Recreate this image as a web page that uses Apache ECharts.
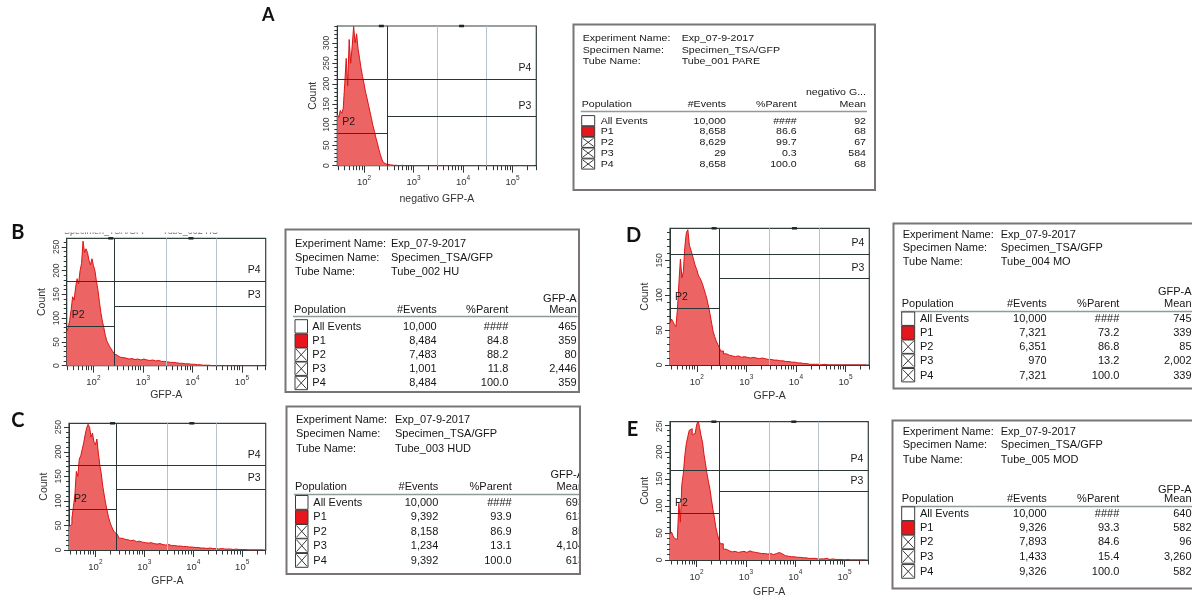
<!DOCTYPE html>
<html>
<head>
<meta charset="utf-8">
<script src="https://cdn.jsdelivr.net/npm/echarts@6/dist/echarts.min.js"></script>
<style>
  html, body { margin: 0; padding: 0; background: #fff; }
  #chart { width: 1192px; height: 597px; }
</style>
</head>
<body>
<div id="chart"></div>
<script>
// ---- histogram data: bin left edges in log10(GFP-A), counts per bin ----
const binLog = [
  1.46, 1.49, 1.52, 1.55, 1.58, 1.61, 1.64, 1.67, 1.70, 1.73,
  1.76, 1.79, 1.82, 1.85, 1.88, 1.91, 1.94, 1.97, 2.00, 2.03,
  2.06, 2.09, 2.12, 2.15, 2.18, 2.21, 2.24, 2.27, 2.30, 2.33,
  2.36, 2.39, 2.42, 2.45,
  2.48, 2.54, 2.60, 2.66, 2.72, 2.78, 2.84, 2.90, 2.96, 3.02,
  3.08, 3.14, 3.20, 3.26, 3.32, 3.38, 3.44, 3.50, 3.56, 3.62,
  3.68, 3.74, 3.80, 3.86, 3.92, 3.98, 4.04, 4.10, 4.16, 4.22,
  4.28, 4.34, 4.40, 4.46, 4.52, 4.58, 4.64, 4.70, 4.76, 4.82,
  4.88, 4.94, 5.00, 5.06, 5.12, 5.18, 5.24, 5.30, 5.36, 5.42
];
const countsA = [
  125, 118, 135, 128, 140, 200, 262, 195, 308, 250,
  290, 340, 300, 322, 285, 262, 238, 218, 200, 180,
  165, 148, 132, 115, 98, 84, 68, 55, 40, 27,
  16, 8, 4, 2,
  2, 1, 1, 0, 1, 0, 0, 0, 0, 0,
  0, 0, 0, 0, 0, 0, 0, 0, 0, 0,
  0, 0, 0, 0, 0, 0, 0, 0, 0, 0,
  0, 0, 0, 0, 0, 0, 0, 0, 0, 0,
  0, 0, 0, 0, 0, 0, 0, 0, 0, 0
];
const countsB = [
  72, 80, 95, 118, 145, 138, 165, 183, 172, 200,
  215, 262, 238, 246, 238, 222, 212, 225, 211, 200,
  178, 160, 135, 112, 94, 80, 64, 52, 46, 40,
  35, 30, 25, 22,
  18, 17, 16, 14, 15, 13, 14, 12, 14, 12,
  11, 12, 10, 11, 9, 9, 8, 7, 7, 6,
  5, 5, 4, 4, 3, 3, 2, 2, 1, 1,
  1, 0, 0, 0, 0, 0, 0, 0, 0, 0,
  0, 0, 0, 0, 0, 0, 0, 0, 0, 0
];
const countsC = [
  48, 52, 65, 88, 112, 160, 150, 185, 192, 205,
  218, 235, 248, 256, 250, 230, 238, 220, 214, 226,
  197, 173, 155, 130, 112, 94, 80, 66, 56, 48,
  41, 36, 32, 29,
  24, 22, 21, 19, 20, 17, 18, 16, 15, 14,
  15, 13, 12, 13, 11, 10, 11, 9, 9, 8,
  8, 7, 7, 6, 6, 5, 5, 4, 4, 3,
  4, 3, 3, 2, 3, 2, 2, 2, 1, 2,
  1, 1, 1, 0, 0, 0, 0, 0, 0, 0
];
const countsD = [
  60, 66, 62, 58, 55, 80, 118, 152, 125, 134,
  170, 190, 194, 172, 165, 158, 150, 142, 137, 129,
  125, 121, 115, 108, 101, 93, 83, 72, 60, 48,
  41, 35, 30, 26,
  20, 16, 14, 13, 12, 13, 11, 12, 11, 10,
  11, 10, 9, 10, 9, 8, 8, 7, 7, 6,
  6, 5, 5, 4, 4, 3, 3, 2, 2, 1,
  1, 1, 1, 0, 1, 0, 0, 0, 0, 0,
  0, 0, 0, 0, 0, 0, 0, 0, 0, 0
];
const countsE = [
  48, 52, 45, 40, 38, 42, 105, 70, 140, 160,
  193, 215, 228, 240, 243, 232, 234, 237, 250, 258,
  245, 230, 218, 195, 178, 160, 145, 131, 112, 94,
  78, 60, 48, 38,
  30, 20, 17, 15, 16, 14, 15, 16, 14, 17,
  15, 14, 13, 12, 12, 11, 12, 10, 12, 14,
  11, 8, 7, 6, 6, 5, 5, 4, 4, 3,
  3, 3, 2, 2, 2, 3, 1, 2, 1, 1,
  1, 0, 1, 0, 0, 0, 0, 0, 0, 0
];

// ---- per-panel axis extents and gates ----
const panelLetters = ['A', 'B', 'C', 'D', 'E'];
const xAxisNames = ['negativo GFP-A', 'GFP-A', 'GFP-A', 'GFP-A', 'GFP-A'];
const countMax = [341, 268, 258, 196, 256];
const gateSplit = [2.47, 2.43, 2.43, 2.45, 2.46];
const gateP2 = [80, 84, 82, 82, 86];
const gateP3 = [120, 126, 124, 124, 127];
const gateP4 = [212, 178, 172, 159, 167];
const decadeTicks = [2, 3, 4, 5];
const gateHandles = [2.35, 3.97];

// ---- statistics tables ----
const experimentName = 'Exp_07-9-2017';
const specimenName = 'Specimen_TSA/GFP';
const tubeNames = ['Tube_001 PARE', 'Tube_002 HU', 'Tube_003 HUD', 'Tube_004 MO', 'Tube_005 MOD'];
const meanHeaders = ['negativo G...', 'GFP-A', 'GFP-A', 'GFP-A', 'GFP-A'];
const populations = ['All Events', 'P1', 'P2', 'P3', 'P4'];
const eventsA = [10000, 8658, 8629, 29, 8658];
const eventsB = [10000, 8484, 7483, 1001, 8484];
const eventsC = [10000, 9392, 8158, 1234, 9392];
const eventsD = [10000, 7321, 6351, 970, 7321];
const eventsE = [10000, 9326, 7893, 1433, 9326];
const parentA = ['####', 86.6, 99.7, 0.3, 100.0];
const parentB = ['####', 84.8, 88.2, 11.8, 100.0];
const parentC = ['####', 93.9, 86.9, 13.1, 100.0];
const parentD = ['####', 73.2, 86.8, 13.2, 100.0];
const parentE = ['####', 93.3, 84.6, 15.4, 100.0];
const meanA = [92, 68, 67, 584, 68];
const meanB = [465, 359, 80, 2446, 359];
const meanC = [693, 613, 85, 4104, 613];
const meanD = [745, 339, 85, 2002, 339];
const meanE = [640, 582, 96, 3260, 582];

const histCounts = [countsA, countsB, countsC, countsD, countsE];
const tableEvents = [eventsA, eventsB, eventsC, eventsD, eventsE];
const tableParent = [parentA, parentB, parentC, parentD, parentE];
const tableMean = [meanA, meanB, meanC, meanD, meanE];

// ---- layout ----
const FONT = '"Liberation Sans", Arial, sans-serif';
const xMin = 1.46, xMax = 5.48;
const plotBoxes = [
  { left: 337.3, top: 26,    width: 199,   height: 139.7, nameGap: 27.5 },
  { left: 66.7,  top: 238.3, width: 199,   height: 127.4, nameGap: 24 },
  { left: 69,    top: 423.3, width: 196.7, height: 126.7, nameGap: 26 },
  { left: 670,   top: 228.3, width: 199.3, height: 136.7, nameGap: 25.5 },
  { left: 670,   top: 421.7, width: 198.3, height: 138.3, nameGap: 26.5 }
];
const letterPos = [[268.3, 15], [17.8, 233], [17.8, 421], [633.7, 235.3], [632.5, 429.2]];
const letterSize = [18, 20, 20, 20, 20];
const tableLayouts = [
  { x: 573.5, y: 24.5, w: 301.5, h: 165.5, fs: 10.6, sy: 0.86, tx: 582.7, vx: 681.7, hy: [38.3, 50, 61.7], mhy: 92.3, chy: 104.3, hly: 111.5,
    ry: [121, 131.7, 142.6, 153.4, 164.3], rh: 10.8, cbx: 581.7, cbw: 13, lx: 600.7, cEv: 726, cPa: 796.7, cMe: 866 },
  { x: 285.5, y: 229.5, w: 293.5, h: 162.5, fs: 11, tx: 295, vx: 391, hy: [244, 258.3, 271.7], mhy: 299.3, chy: 310, hly: 316.5,
    ry: [326.7, 341, 355, 369, 383.3], rh: 14, cbx: 295, cbw: 12.5, lx: 312.3, cEv: 436.7, cPa: 508.3, cMe: 576.7 },
  { x: 286.5, y: 406.5, w: 293.5, h: 167.5, fs: 11, tx: 296, vx: 395, hy: [420, 434.3, 449], mhy: 475, chy: 487.3, hly: 494.5,
    ry: [502.7, 517.3, 531.7, 546, 560.7], rh: 14.4, cbx: 295.5, cbw: 12.5, lx: 313.3, cEv: 438.3, cPa: 511.7, cMe: 584, clipX: 579.5 },
  { x: 893.5, y: 223.5, w: 330, h: 165, fs: 11, tx: 902.7, vx: 1000.7, hy: [235, 248.3, 262.3], mhy: 291.7, chy: 304.3, hly: 311.5,
    ry: [319, 333, 347, 361, 375.5], rh: 14, cbx: 901.7, cbw: 13, lx: 920, cEv: 1046.7, cPa: 1119.3, cMe: 1191.5 },
  { x: 892.5, y: 420.5, w: 330, h: 168, fs: 11, tx: 902.7, vx: 1000.7, hy: [431.7, 445, 460], mhy: 490, chy: 499.3, hly: 506.5,
    ry: [514, 528.3, 542.3, 556.7, 571.7], rh: 14.3, cbx: 901.7, cbw: 13, lx: 920, cEv: 1046.7, cPa: 1119.3, cMe: 1191.5 }
];

// minor ticks at 2..9 x 10^n on the log scale
const minorTickValues = [];
for (let e = 1; e <= 5; e++) {
  for (let m = 2; m <= 9; m++) {
    const v = Math.log10(m * Math.pow(10, e));
    if (v > xMin && v < xMax) minorTickValues.push(v);
  }
}

const AXIS_COLOR = '#2e3838';
const grids = [], xAxes = [], yAxes = [], series = [];

plotBoxes.forEach((b, i) => {
  grids.push({
    left: b.left, top: b.top, width: b.width, height: b.height,
    show: true, borderColor: '#34403f', borderWidth: 1.2, backgroundColor: '#fff',
    outerBoundsMode: 'none'
  });

  xAxes.push({
    gridIndex: i, type: 'value', min: xMin, max: xMax, position: 'bottom',
    name: xAxisNames[i], nameLocation: 'middle', nameGap: b.nameGap,
    nameTextStyle: { fontFamily: FONT, fontSize: 10.5, color: '#333' },
    axisLine: { show: true, onZero: false, lineStyle: { color: AXIS_COLOR, width: 1 } },
    axisTick: { show: true, customValues: decadeTicks, length: 7, lineStyle: { color: AXIS_COLOR } },
    axisLabel: {
      customValues: decadeTicks, margin: 9,
      formatter: v => '{b|10}{s|' + Math.round(v) + '}',
      rich: {
        b: { fontFamily: FONT, fontSize: 9.5, color: '#333', verticalAlign: 'bottom', lineHeight: 13 },
        s: { fontFamily: FONT, fontSize: 6.5, color: '#333', verticalAlign: 'top', lineHeight: 13 }
      }
    },
    splitLine: { show: false }
  });
  xAxes.push({
    gridIndex: i, type: 'value', min: xMin, max: xMax, position: 'bottom',
    axisLine: { show: false, onZero: false },
    axisTick: { show: true, customValues: minorTickValues, length: 4.5, lineStyle: { color: AXIS_COLOR } },
    axisLabel: { show: false },
    splitLine: { show: false }
  });

  const yMajor = [], yMinor = [];
  for (let v = 0; v <= countMax[i]; v += 50) yMajor.push(v);
  for (let v = 10; v <= countMax[i]; v += 10) if (v % 50) yMinor.push(v);

  yAxes.push({
    gridIndex: i, type: 'value', min: 0, max: countMax[i], position: 'left',
    name: 'Count', nameLocation: 'middle', nameGap: 19,
    nameTextStyle: { fontFamily: FONT, fontSize: 10.5, color: '#333' },
    axisLine: { show: true, onZero: false, lineStyle: { color: AXIS_COLOR, width: 1 } },
    axisTick: { show: true, customValues: yMajor, length: 5, lineStyle: { color: AXIS_COLOR } },
    axisLabel: { customValues: yMajor, rotate: 90, margin: 6, fontFamily: FONT, fontSize: 8.5, color: '#3a3a3a' },
    splitLine: { show: false }
  });
  yAxes.push({
    gridIndex: i, type: 'value', min: 0, max: countMax[i], position: 'left',
    axisLine: { show: false, onZero: false },
    axisTick: { show: true, customValues: yMinor, length: 3, lineStyle: { color: AXIS_COLOR } },
    axisLabel: { show: false },
    splitLine: { show: false }
  });

  const q2 = xMin + (xMax - xMin) / 2;
  const q3 = xMin + 3 * (xMax - xMin) / 4;
  const gateLabel = (text, position) => ({
    show: true, formatter: text, position, distance: 5,
    fontFamily: FONT, fontSize: 10.5, color: '#1c1c1c'
  });
  const quarter = { color: '#b7c2cd', width: 1, type: 'solid' };

  series.push({
    type: 'line', xAxisIndex: 2 * i, yAxisIndex: 2 * i,
    step: 'end', symbol: 'none', clip: true, animation: false,
    data: binLog.map((x, j) => [x, histCounts[i][j]]),
    lineStyle: { color: '#dc1414', width: 1 },
    areaStyle: { color: '#ec6464', opacity: 1 },
    markLine: {
      silent: true, animation: false, symbol: ['none', 'none'], precision: 4,
      lineStyle: { color: '#2b3535', width: 1, type: 'solid' },
      label: { show: false },
      data: [
        [{ coord: [q2, 0], lineStyle: quarter }, { coord: [q2, countMax[i]] }],
        [{ coord: [q3, 0], lineStyle: quarter }, { coord: [q3, countMax[i]] }],
        [{ coord: [xMin, gateP4[i]], label: gateLabel('P4', 'insideEndTop') }, { coord: [xMax, gateP4[i]] }],
        [{ coord: [gateSplit[i], gateP3[i]], label: gateLabel('P3', 'insideEndTop') }, { coord: [xMax, gateP3[i]] }],
        [{ coord: [xMin, gateP2[i]], label: gateLabel('P2', 'insideStartTop') }, { coord: [gateSplit[i], gateP2[i]] }],
        [{ coord: [gateSplit[i], 0] }, { coord: [gateSplit[i], countMax[i]] }]
      ]
    },
    markPoint: {
      silent: true, animation: false, symbol: 'rect', symbolSize: [5, 2.5],
      itemStyle: { color: '#1e2626' }, label: { show: false },
      data: gateHandles.map(x => ({ coord: [x, countMax[i]] }))
    }
  });
});

// ---- statistics tables drawn as graphic elements ----
const fmtInt = v => v.toLocaleString('en-US');
const fmtPct = v => typeof v === 'number' ? v.toFixed(1) : v;

function buildTable(i) {
  const L = tableLayouts[i];
  const els = [];
  const font = L.fs + 'px ' + FONT;
  const txt = (text, x, y, align) => els.push({
    type: 'text', z: 12, x, y, scaleY: L.sy || 1,
    style: { text, font, fill: '#161616', textAlign: align || 'left', textVerticalAlign: 'middle' }
  });

  els.push({ type: 'rect', z: 10, shape: { x: L.x, y: L.y, width: L.w, height: L.h }, style: { fill: '#fff' } });

  txt('Experiment Name:', L.tx, L.hy[0]);
  txt(experimentName, L.vx, L.hy[0]);
  txt('Specimen Name:', L.tx, L.hy[1]);
  txt(specimenName, L.vx, L.hy[1]);
  txt('Tube Name:', L.tx, L.hy[2]);
  txt(tubeNames[i], L.vx, L.hy[2]);

  txt(meanHeaders[i], L.cMe, L.mhy, 'right');
  txt('Population', L.tx - 1, L.chy);
  txt('#Events', L.cEv, L.chy, 'right');
  txt('%Parent', L.cPa, L.chy, 'right');
  txt('Mean', L.cMe, L.chy, 'right');

  const lineEnd = Math.min(L.cMe + 1, L.clipX || 1e9);
  els.push({ type: 'line', z: 12, shape: { x1: L.tx - 2, y1: L.hly, x2: lineEnd, y2: L.hly },
    style: { stroke: '#8f9b9b', lineWidth: 1.6 } });

  populations.forEach((p, r) => {
    const y = L.ry[r];
    const bx = L.cbx, by = y - L.rh / 2, bw = L.cbw, bh = L.rh - 0.6;
    els.push({ type: 'rect', z: 12, shape: { x: bx, y: by, width: bw, height: bh },
      style: { fill: r === 1 ? '#e6161c' : '#fff', stroke: '#3c3c3c', lineWidth: 1 } });
    if (r >= 2) {
      els.push({ type: 'line', z: 12, shape: { x1: bx + 1, y1: by + 1, x2: bx + bw - 1, y2: by + bh - 1 }, style: { stroke: '#3c3c3c', lineWidth: 1 } });
      els.push({ type: 'line', z: 12, shape: { x1: bx + 1, y1: by + bh - 1, x2: bx + bw - 1, y2: by + 1 }, style: { stroke: '#3c3c3c', lineWidth: 1 } });
    }
    txt(p, L.lx, y);
    txt(fmtInt(tableEvents[i][r]), L.cEv, y, 'right');
    txt(fmtPct(tableParent[i][r]), L.cPa, y, 'right');
    txt(fmtInt(tableMean[i][r]), L.cMe, y, 'right');
  });

  if (L.clipX) {
    els.push({ type: 'rect', z: 13, shape: { x: L.clipX, y: L.y - 2, width: 26, height: L.h + 4 }, style: { fill: '#fff' } });
  }
  els.push({ type: 'rect', z: 14, shape: { x: L.x, y: L.y, width: L.w, height: L.h },
    style: { fill: null, stroke: '#7a7474', lineWidth: 2 } });
  return els;
}

const graphics = [];
panelLetters.forEach((t, i) => {
  graphics.push({
    type: 'text', z: 20, x: letterPos[i][0], y: letterPos[i][1],
    style: { text: t, font: 'bold ' + letterSize[i] + 'px Lato, "Liberation Sans", sans-serif', fill: '#111',
      textAlign: 'center', textVerticalAlign: 'middle' }
  });
});
for (let i = 0; i < 5; i++) graphics.push(...buildTable(i));

// header strip of the HU plot, cut at the top edge
graphics.push({
  type: 'text', z: 20, x: 64, y: 236.5,
  style: { text: 'Specimen_TSA/GFP      Tube_002 HU', font: '9px ' + FONT, fill: '#666',
    textAlign: 'left', textVerticalAlign: 'bottom' }
});
graphics.push({ type: 'rect', z: 21, shape: { x: 60, y: 222, width: 190, height: 10.5 }, style: { fill: '#fff' } });
// top of the MOD plot clips its highest count label
graphics.push({ type: 'rect', z: 21, shape: { x: 648, y: 410, width: 16, height: 10.8 }, style: { fill: '#fff' } });

const chart = echarts.init(document.getElementById('chart'), null, { renderer: 'canvas' });
chart.setOption({
  animation: false,
  backgroundColor: '#fff',
  grid: grids,
  xAxis: xAxes,
  yAxis: yAxes,
  series: series,
  graphic: { elements: graphics }
});
</script>
</body>
</html>
